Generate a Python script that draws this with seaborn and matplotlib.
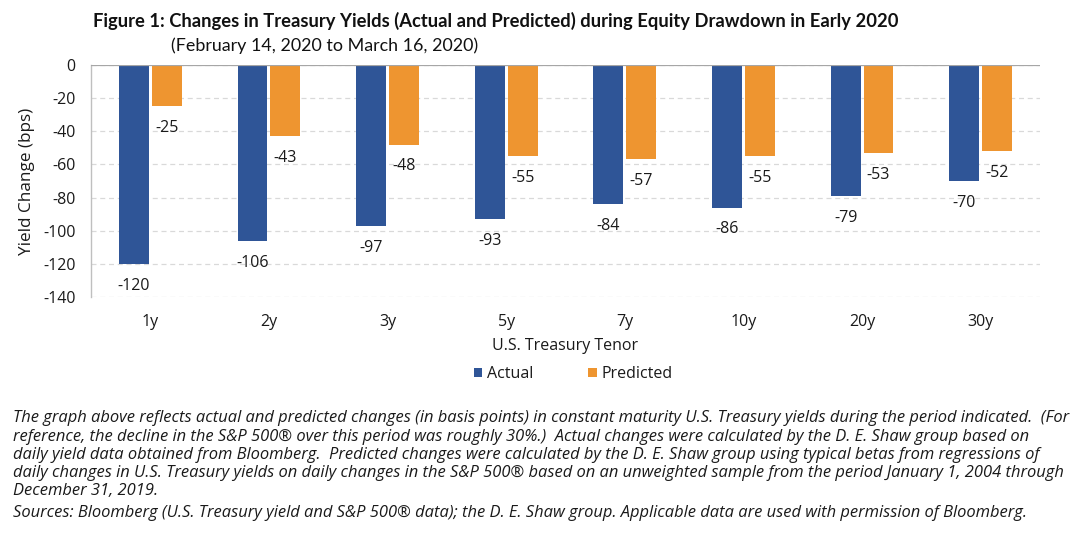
import matplotlib
matplotlib.use("Agg")
import matplotlib.pyplot as plt
import seaborn as sns
import pandas as pd
from matplotlib.patches import Patch

# ---- data ----
tenors = ["1y", "2y", "3y", "5y", "7y", "10y", "20y", "30y"]
actual = [-120, -106, -97, -93, -84, -86, -79, -70]
predicted = [-25, -43, -48, -55, -57, -55, -53, -52]
series_names = ["Actual", "Predicted"]
yticks = [0, -20, -40, -60, -80, -100, -120, -140]

title = "Figure 1: Changes in Treasury Yields (Actual and Predicted) during Equity Drawdown in Early 2020"
subtitle = "(February 14, 2020 to March 16, 2020)"
ylabel = "Yield Change (bps)"
xlabel = "U.S. Treasury Tenor"
caption_lines = [
    "The graph above reflects actual and predicted changes (in basis points) in constant maturity U.S. Treasury yields during the period indicated.  (For",
    "reference, the decline in the S&P 500\u00ae over this period was roughly 30%.)  Actual changes were calculated by the D. E. Shaw group based on",
    "daily yield data obtained from Bloomberg.  Predicted changes were calculated by the D. E. Shaw group using typical betas from regressions of",
    "daily changes in U.S. Treasury yields on daily changes in the S&P 500\u00ae based on an unweighted sample from the period January 1, 2004 through",
    "December 31, 2019.",
]
source_line = "Sources: Bloomberg (U.S. Treasury yield and S&P 500\u00ae data); the D. E. Shaw group. Applicable data are used with permission of Bloomberg."

colors = {"Actual": "#2F5597", "Predicted": "#EE9530"}

df = pd.DataFrame({
    "tenor": tenors * 2,
    "series": ["Actual"] * len(tenors) + ["Predicted"] * len(tenors),
    "value": actual + predicted,
})

sns.set_theme(style="white")
plt.rcParams["font.family"] = ["Open Sans", "DejaVu Sans"]

W, H = 1080, 538
fig = plt.figure(figsize=(W / 100, H / 100), dpi=100)
ax = fig.add_axes([91 / W, 1 - 297 / H, (1040 - 91) / W, (297 - 65) / H])

sns.barplot(data=df, x="tenor", y="value", hue="series", order=tenors,
            hue_order=series_names, palette=colors, width=0.53,
            saturation=1, ax=ax, legend=True, errorbar=None)

# small white gap between paired bars
gap = 0.025
for cont, name in zip(ax.containers, series_names):
    for p in cont.patches:
        if name == "Actual":
            p.set_width(p.get_width() - gap / 2)
        else:
            p.set_x(p.get_x() + gap / 2)
            p.set_width(p.get_width() - gap / 2)
        p.set_edgecolor("none")

for cont in ax.containers:
    ax.bar_label(cont, fmt="%d", padding=10, fontsize=11.5, color="#1a1a1a")

ax.get_legend().remove()

ax.set_ylim(-140, 0)
ax.set_xlim(-0.5, len(tenors) - 0.5)
ax.set_yticks(yticks)
ax.set_yticklabels([str(v) for v in yticks])
ax.tick_params(axis="y", length=0, pad=11, labelsize=11.5, labelcolor="#1a1a1a")
ax.tick_params(axis="x", length=0, pad=12, labelsize=11.5, labelcolor="#1a1a1a")
ax.yaxis.grid(True, color="#D9D9D9", linestyle=(0, (4, 3)), linewidth=0.9)
ax.set_axisbelow(True)
for s in ["top", "right", "bottom"]:
    ax.spines[s].set_visible(False)
ax.spines["left"].set_color("#BFBFBF")
ax.spines["left"].set_linewidth(1.0)
ax.axhline(0, color="#A6A6A6", linewidth=1.6, zorder=3)

ax.set_xlabel(xlabel, fontsize=11.5, color="#1a1a1a", labelpad=6)
ax.set_ylabel(ylabel, fontsize=12.3, color="#1a1a1a", va="center")
ax.yaxis.set_label_coords(-(91 - 27) / (1040 - 91), 0.5)

# legend
handles = [Patch(facecolor=colors[n], edgecolor="none") for n in series_names]
fig.legend(handles, series_names, loc="center", bbox_to_anchor=(573 / W, 1 - 374 / H),
           ncol=2, frameon=False, fontsize=11.5, handlelength=0.55, handleheight=0.55,
           handletextpad=0.3, columnspacing=3.4, labelcolor="#1a1a1a")

# titles
t1 = fig.text(93 / W, 1 - 21 / H, title, ha="left", va="center", fontsize=13,
              fontweight="bold", family=["Lato", "DejaVu Sans"], color="#111111")
t2 = fig.text(171 / W, 1 - 46 / H, subtitle, ha="left", va="center", fontsize=12,
              family=["Lato", "DejaVu Sans"], color="#111111")

caps = []
ys = [418, 437, 455, 473, 491]
for line, y in zip(caption_lines, ys):
    caps.append(fig.text(13 / W, 1 - y / H, line, ha="left", va="center", fontsize=11,
                         style="italic", family=["Open Sans", "DejaVu Sans"], color="#1a1a1a"))
src = fig.text(13 / W, 1 - 513 / H, source_line, ha="left", va="center", fontsize=11,
               style="italic", family=["Open Sans", "DejaVu Sans"], color="#1a1a1a")

# fit text widths to the reference layout
fig.canvas.draw()
r = fig.canvas.get_renderer()
def fit(t, width_px):
    bb = t.get_window_extent(r)
    t.set_fontsize(t.get_fontsize() * width_px / bb.width)
    return t.get_fontsize()

fit(t1, 893 - 93)
fit(t2, 478 - 171)
cs = fit(caps[0], 1068 - 13)
for c in caps[1:]:
    c.set_fontsize(cs)
src.set_fontsize(cs)

fig.savefig("out.png", dpi=100, facecolor="white")
